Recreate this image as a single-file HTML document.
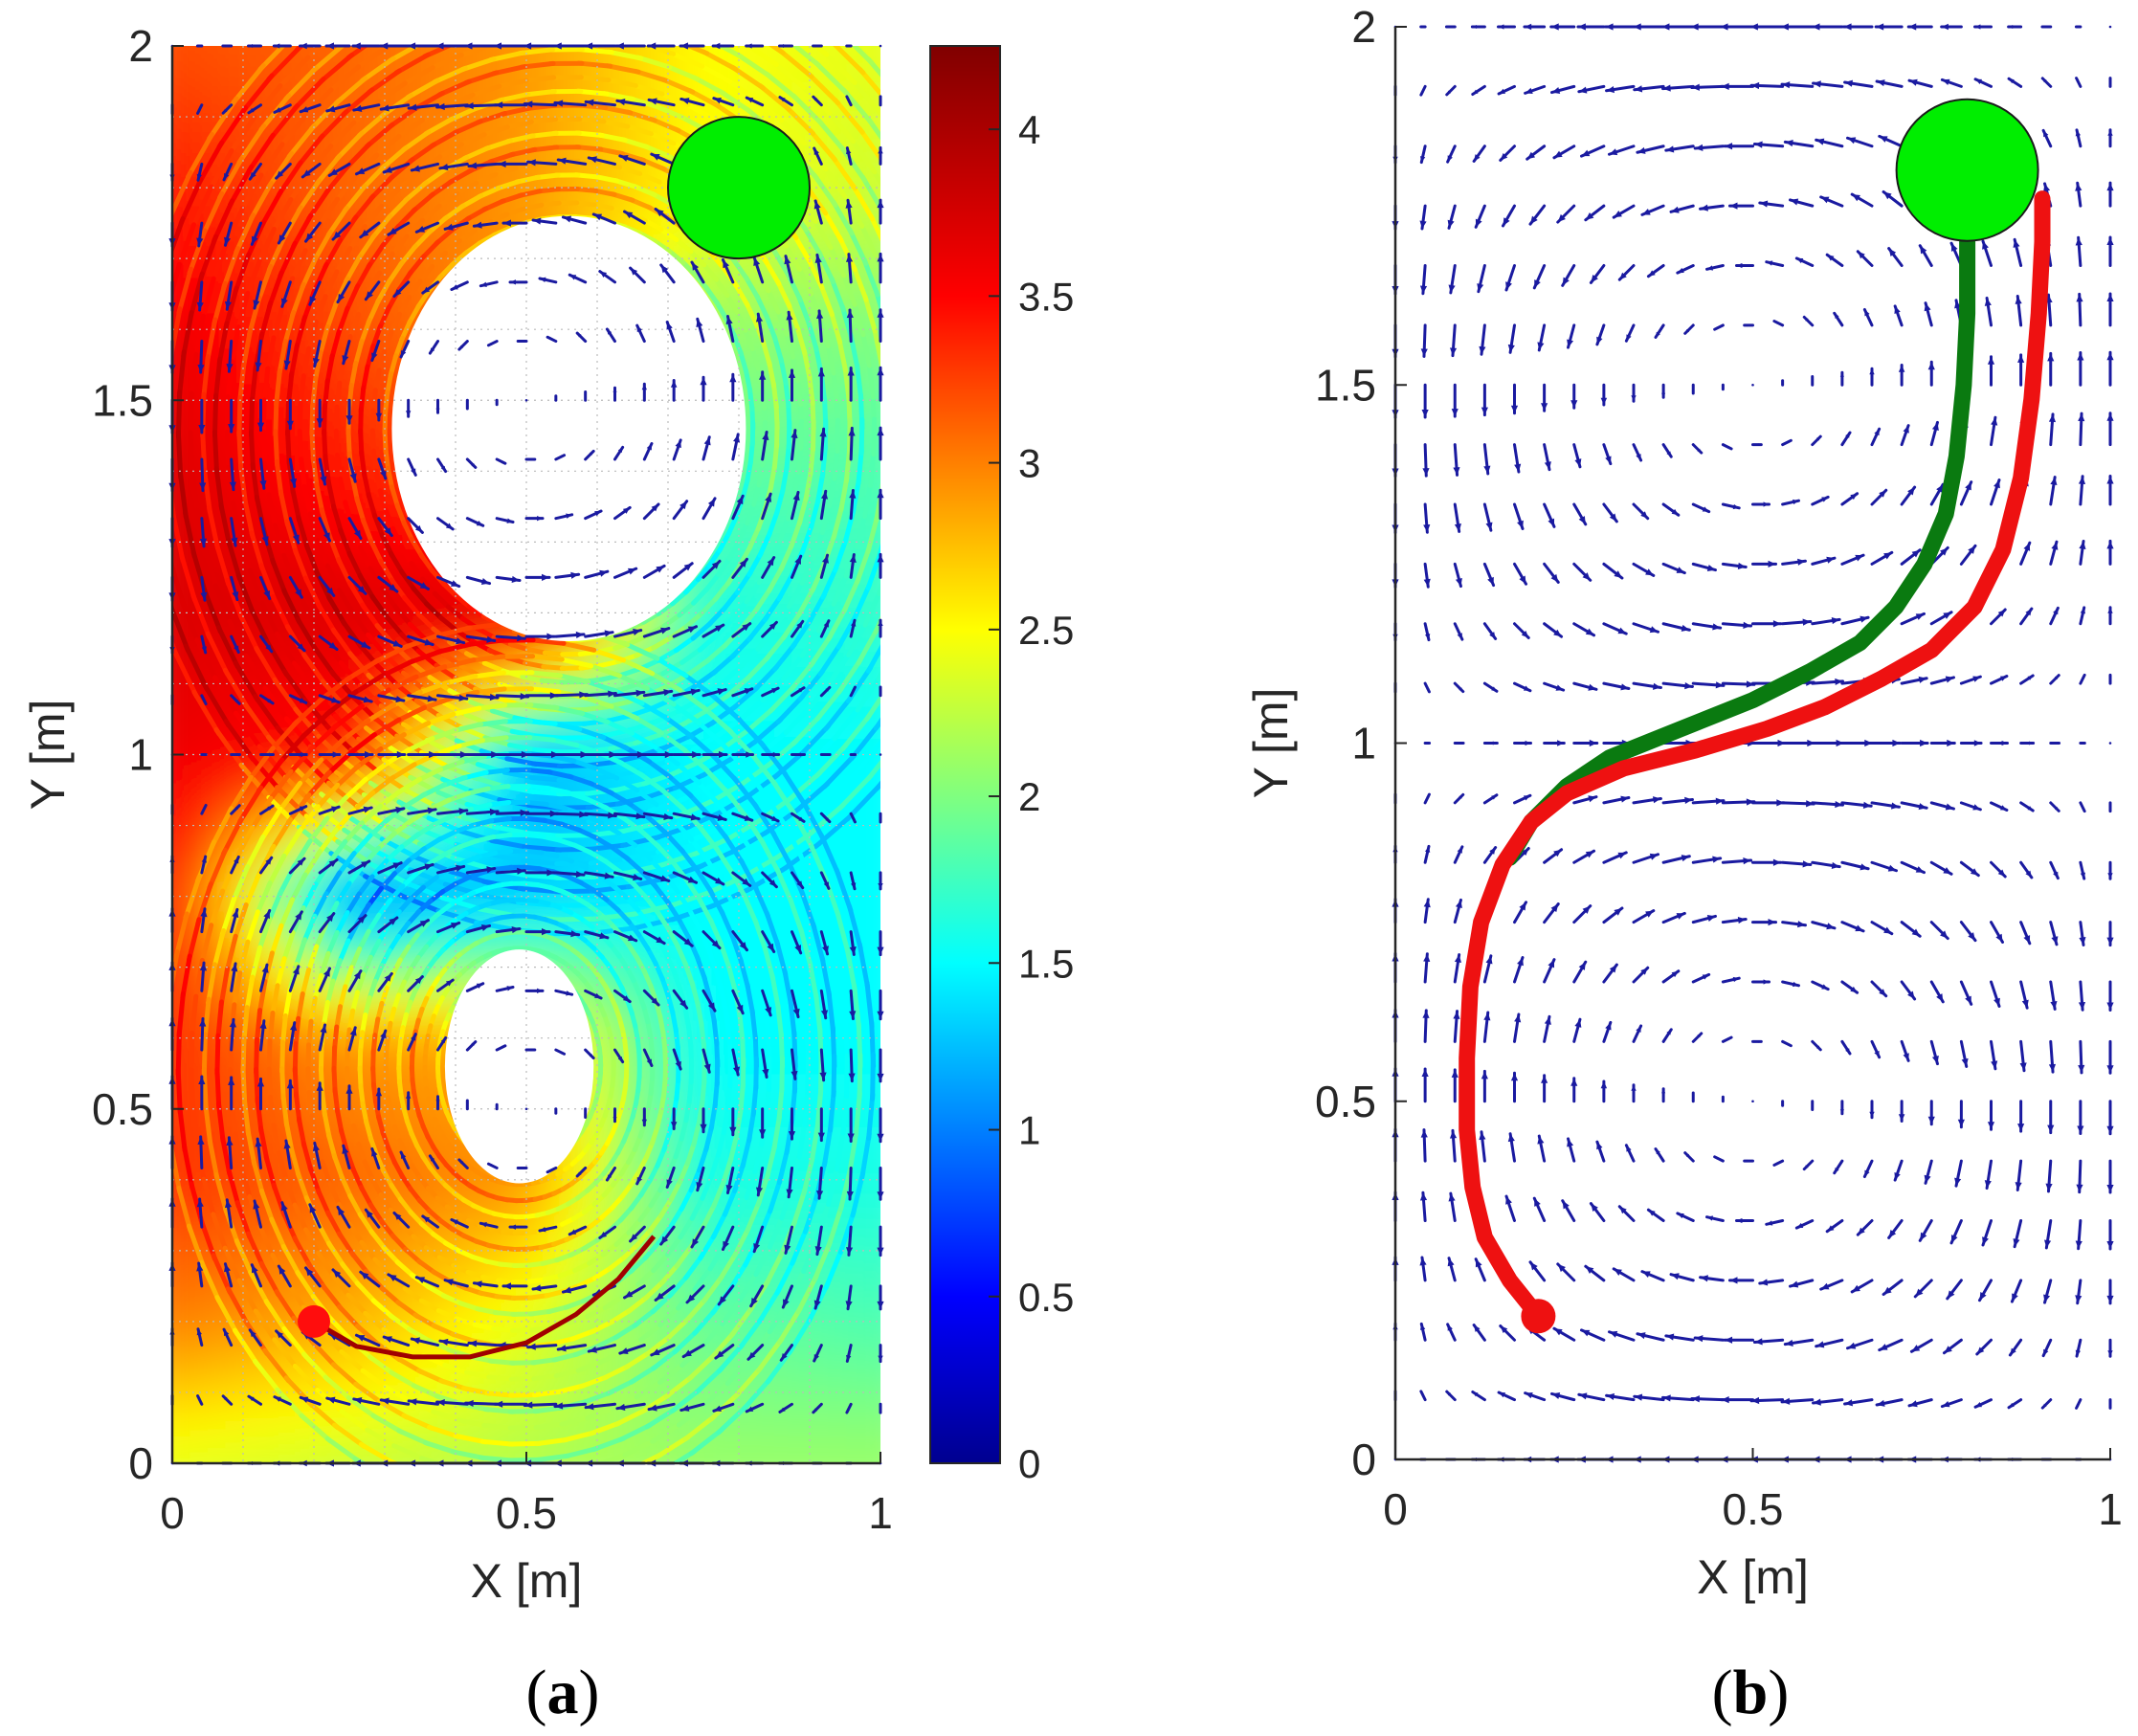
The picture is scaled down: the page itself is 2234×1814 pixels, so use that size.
<!DOCTYPE html>
<html><head><meta charset="utf-8"><style>
html,body{margin:0;padding:0;background:#fff;}
svg{display:block;font-family:"Liberation Sans",Arial,sans-serif;}
</style></head><body>
<svg id="fig" xmlns="http://www.w3.org/2000/svg" width="2234" height="1814" viewBox="0 0 2234 1814">
<defs>
<clipPath id="clipA"><rect x="180" y="48" width="740" height="1481"/></clipPath>
<filter id="blurA" x="-10%" y="-10%" width="120%" height="120%"><feGaussianBlur stdDeviation="22"/></filter>
<linearGradient id="jet" x1="0" y1="1" x2="0" y2="0">
<stop offset="0" stop-color="#00008f"/><stop offset="0.1176" stop-color="#0000ff"/>
<stop offset="0.3529" stop-color="#00ffff"/><stop offset="0.5882" stop-color="#ffff00"/>
<stop offset="0.8235" stop-color="#ff0000"/><stop offset="1" stop-color="#800000"/>
</linearGradient>
</defs>
<g id="panelA"></g>
<g id="panelB"></g>
<text x="588" y="1790" font-family="Liberation Serif,serif" font-size="66" text-anchor="middle">(<tspan font-weight="bold">a</tspan>)</text>
<text x="1829" y="1790" font-family="Liberation Serif,serif" font-size="66" text-anchor="middle">(<tspan font-weight="bold">b</tspan>)</text>
</svg>
<script>
// ---- data ----
const axisTicks = [0, 0.5, 1];
const yTicks = [0, 0.5, 1, 1.5, 2];
const yTickLabels = ["0", "0.5", "1", "1.5", "2"];
const xTickLabels = ["0", "0.5", "1"];
const cbTicks = [0, 0.5, 1, 1.5, 2, 2.5, 3, 3.5, 4];
const cbTickLabels = ["0", "0.5", "1", "1.5", "2", "2.5", "3", "3.5", "4"];
const cbMax = 4.25;
// quiver grid (columns every 1/24, rows every 1/12)
const quiverXs = Array.from({length: 25}, (_, i) => i / 24);
const quiverYs = Array.from({length: 25}, (_, j) => j / 12);
// speed colour grid: rows y=2.0..0.0 step 0.2, cols x=0,0.25,0.5,0.75,1
const colorGridX = [0, 0.25, 0.5, 0.75, 1];
const colorGridY = [2.0, 1.8, 1.6, 1.4, 1.2, 1.0, 0.8, 0.6, 0.4, 0.2, 0.0];
const colorGrid = [
 [3.2, 3.1, 2.9, 2.5, 2.4],
 [3.4, 3.1, 2.9, 2.5, 2.3],
 [3.6, 3.2, 2.9, 2.1, 2.0],
 [3.7, 3.4, 3.1, 1.9, 1.8],
 [3.7, 3.7, 3.7, 1.6, 1.7],
 [3.6, 3.4, 1.2, 1.5, 1.5],
 [3.4, 1.0, 1.3, 1.5, 1.5],
 [3.3, 2.9, 2.8, 1.5, 1.5],
 [3.3, 3.1, 2.9, 1.6, 1.6],
 [3.0, 2.8, 2.4, 1.9, 1.8],
 [2.4, 2.3, 2.2, 2.1, 2.1]];
// empty vortex cores in (a): cx, cy, rx, ry
const holeTop = [0.56, 1.46, 0.25, 0.30];
const holeBottom = [0.49, 0.56, 0.105, 0.165];
const goal = [0.8, 1.8];
const start = [0.2, 0.2];
// trajectories in (b)
const greenPathX = [0.8, 0.8, 0.795, 0.785, 0.77, 0.74, 0.7, 0.65, 0.58, 0.5, 0.4, 0.3, 0.24, 0.19, 0.16];
const greenPathY = [1.72, 1.6, 1.5, 1.4, 1.32, 1.25, 1.19, 1.14, 1.1, 1.06, 1.02, 0.98, 0.94, 0.89, 0.84];
const redPathX = [0.2, 0.16, 0.125, 0.108, 0.1, 0.1, 0.105, 0.12, 0.15, 0.19, 0.24, 0.32, 0.42, 0.52, 0.6, 0.68, 0.75, 0.81, 0.85, 0.875, 0.89, 0.9, 0.905, 0.905];
const redPathY = [0.2, 0.25, 0.31, 0.38, 0.46, 0.56, 0.66, 0.75, 0.83, 0.89, 0.93, 0.965, 0.99, 1.02, 1.05, 1.09, 1.13, 1.19, 1.27, 1.37, 1.48, 1.6, 1.7, 1.76];
// highlighted trajectory from start in (a)
const startTrajX = [0.2, 0.26, 0.34, 0.42, 0.5, 0.57, 0.63, 0.68];
const startTrajY = [0.2, 0.165, 0.15, 0.15, 0.17, 0.21, 0.26, 0.32];

// ---- helpers ----
const NS = "http://www.w3.org/2000/svg";
function mk(tag, attrs, parent) {
  const e = document.createElementNS(NS, tag);
  for (const k in attrs) e.setAttribute(k, attrs[k]);
  parent.appendChild(e);
  return e;
}
const A = {x0: 180, x1: 920, y0: 1529, y1: 48};
const B = {x0: 1458, x1: 2205, y0: 1525, y1: 28};
function sx(P, x) { return P.x0 + (P.x1 - P.x0) * x; }
function sy(P, y) { return P.y0 + (P.y1 - P.y0) * y / 2; }
function jet(t) {
  t = Math.max(0, Math.min(1, t / cbMax));
  const st = [[0,0,0,143],[0.1176,0,0,255],[0.3529,0,255,255],[0.5882,255,255,0],[0.8235,255,0,0],[1,128,0,0]];
  for (let i = 1; i < st.length; i++) if (t <= st[i][0]) {
    const a = st[i-1], b = st[i], f = (t - a[0]) / (b[0] - a[0]);
    return `rgb(${Math.round(a[1]+(b[1]-a[1])*f)},${Math.round(a[2]+(b[2]-a[2])*f)},${Math.round(a[3]+(b[3]-a[3])*f)})`;
  }
  return "rgb(128,0,0)";
}
function speedAt(x, y) {
  x = Math.max(0, Math.min(1, x)); y = Math.max(0, Math.min(2, y));
  const fi = x / 0.25, i = Math.min(3, Math.floor(fi)), fx = fi - i;
  const fj = (2 - y) / 0.2, j = Math.min(9, Math.floor(fj)), fy = fj - j;
  const g = colorGrid;
  return (g[j][i]*(1-fx)+g[j][i+1]*fx)*(1-fy) + (g[j+1][i]*(1-fx)+g[j+1][i+1]*fx)*fy;
}
function field(x, y) {
  return [-Math.sin(Math.PI*x)*Math.cos(Math.PI*y), Math.cos(Math.PI*x)*Math.sin(Math.PI*y)];
}

function axes(P, g, name) {
  const ax = mk("g", {}, g);
  
  
  mk("line", {x1:P.x0, y1:P.y1, x2:P.x0, y2:P.y0, stroke:"#262626", "stroke-width":2.5}, ax);
  mk("line", {x1:P.x0, y1:P.y0, x2:P.x1, y2:P.y0, stroke:"#262626", "stroke-width":2.5}, ax);
  axisTicks.forEach((v, i) => {
    mk("line", {x1:sx(P,v), y1:P.y0, x2:sx(P,v), y2:P.y0-12, stroke:"#262626", "stroke-width":2}, ax);
    const t = mk("text", {x:sx(P,v), y:P.y0+68, "font-size":46, "text-anchor":"middle", fill:"#262626"}, ax);
    t.textContent = xTickLabels[i];
    
    
  });
  yTicks.forEach((v, i) => {
    mk("line", {x1:P.x0, y1:sy(P,v), x2:P.x0+12, y2:sy(P,v), stroke:"#262626", "stroke-width":2}, ax);
    const t = mk("text", {x:P.x0-20, y:sy(P,v)+16, "font-size":46, "text-anchor":"end", fill:"#262626"}, ax);
    t.textContent = yTickLabels[i];
    
    
  });
  const xl = mk("text", {x:(P.x0+P.x1)/2, y:P.y0+140, "font-size":50, "text-anchor":"middle", fill:"#262626"}, ax);
  xl.textContent = "X [m]";
  
  
  const yx = P.x0 - 130, yy = (P.y0 + P.y1) / 2;
  const yl = mk("text", {x:yx, y:yy, "font-size":50, "text-anchor":"middle", fill:"#262626", transform:`rotate(-90 ${yx} ${yy}) translate(0 17)`}, ax);
  yl.textContent = "Y [m]";
  
  
}

function quiver(P, g) {
  const q = mk("g", {stroke:"#1a1aa0", fill:"#1a1aa0", "stroke-width":3, "stroke-linecap":"round"}, g);
  
  
  const scale = 34;
  quiverYs.forEach(y => quiverXs.forEach(x => {
    const [u, v] = field(x, y);
    const px = sx(P, x), py = sy(P, y);
    const dx = u * scale, dy = -v * scale;
    const L = Math.hypot(dx, dy);
    if (L < 1.5) { mk("circle", {cx:px, cy:py, r:1.3, stroke:"none"}, q); return; }
    const ex = px + dx, ey = py + dy;
    const a = mk("line", {x1:px, y1:py, x2:ex, y2:ey}, q);
    
    
    const h = Math.min(8, L * 0.35), ux = dx / L, uy = dy / L;
    mk("polygon", {points:`${ex},${ey} ${ex-ux*h-uy*h*0.45},${ey-uy*h+ux*h*0.45} ${ex-ux*h+uy*h*0.45},${ey-uy*h-ux*h*0.45}`, stroke:"none"}, q);
  }));
}

function pathD(P, xs, ys) {
  return xs.map((x, i) => (i ? "L" : "M") + sx(P, x).toFixed(1) + "," + sy(P, ys[i]).toFixed(1)).join(" ");
}

// ---- panel A ----
const gA = document.getElementById("panelA");
const fillG = mk("g", {"clip-path":"url(#clipA)"}, gA);


const blurG = mk("g", {filter:"url(#blurA)"}, fillG);
for (let x = -0.05; x < 1.05; x += 0.025) for (let y = -0.05; y < 2.05; y += 0.025) {
  mk("rect", {x:sx(A,x), y:sy(A,y+0.025), width:19, height:19, fill:jet(speedAt(x+0.0125, y+0.0125))}, blurG);
}
function rings(cx, cy, r0, r1, ky, n) {
  for (let k = 0; k < n; k++) {
    const rx = r0 + (r1 - r0) * k / (n - 1), ry = rx * ky;
    for (let a = 0; a < Math.PI * 2; a += 0.09) {
      const xa = cx + rx * Math.cos(a), ya = cy + ry * Math.sin(a);
      const xb = cx + rx * Math.cos(a + 0.1), yb = cy + ry * Math.sin(a + 0.1);
      const s = speedAt((xa + xb) / 2, (ya + yb) / 2) + ((k % 3) - 1) * 0.25;
      mk("line", {x1:sx(A,xa), y1:sy(A,ya), x2:sx(A,xb), y2:sy(A,yb), stroke:jet(s), "stroke-width":5, "stroke-linecap":"round"}, fillG);
    }
  }
}
rings(holeTop[0], holeTop[1], holeTop[2] + 0.01, 0.62, 1.15, 22);
rings(holeBottom[0], holeBottom[1], holeBottom[2] + 0.01, 0.5, 1.25, 22);
[holeTop, holeBottom].forEach((h, i) => {
  const e = mk("ellipse", {cx:sx(A,h[0]), cy:sy(A,h[1]), rx:(A.x1-A.x0)*h[2], ry:(A.y0-A.y1)/2*h[3], fill:"#fff"}, fillG);
  
  
});
const gridG = mk("g", {stroke:"#bbb", "stroke-width":1.2, "stroke-dasharray":"2 5"}, gA);


for (let i = 1; i < 10; i++) mk("line", {x1:sx(A,i/10), y1:A.y1, x2:sx(A,i/10), y2:A.y0}, gridG);
for (let j = 1; j < 20; j++) mk("line", {x1:A.x0, y1:sy(A,j/10), x2:A.x1, y2:sy(A,j/10)}, gridG);
quiver(A, gA);
const st = mk("path", {d:pathD(A, startTrajX, startTrajY), fill:"none", stroke:"#a00000", "stroke-width":5, "stroke-linejoin":"round"}, gA);


axes(A, gA, "panel-a");
const gcA = mk("circle", {cx:sx(A,goal[0]), cy:sy(A,goal[1]), r:74, fill:"#00ee00", stroke:"#1a1a1a", "stroke-width":2}, gA);


const scA = mk("circle", {cx:sx(A,start[0]), cy:sy(A,start[1]), r:17, fill:"#ff0d0d"}, gA);


// colorbar
const cb = mk("g", {}, gA);


const cbTop = 48, cbBot = 1529, cbX = 972, cbW = 73;
mk("rect", {x:cbX, y:cbTop, width:cbW, height:cbBot-cbTop, fill:"url(#jet)", stroke:"#262626", "stroke-width":2}, cb);
cbTicks.forEach((v, i) => {
  const y = cbBot - (cbBot - cbTop) * v / cbMax;
  mk("line", {x1:cbX+cbW-12, y1:y, x2:cbX+cbW, y2:y, stroke:"#262626", "stroke-width":2}, cb);
  const t = mk("text", {x:1064, y:y+15, "font-size":42, fill:"#262626"}, cb);
  t.textContent = cbTickLabels[i];
  
  
});

// ---- panel B ----
const gB = document.getElementById("panelB");
quiver(B, gB);
axes(B, gB, "panel-b");
const gp = mk("path", {d:pathD(B, greenPathX, greenPathY), fill:"none", stroke:"#0a7a10", "stroke-width":17, "stroke-linejoin":"round", "stroke-linecap":"round"}, gB);


const rp = mk("path", {d:pathD(B, redPathX, redPathY), fill:"none", stroke:"#ee1111", "stroke-width":17, "stroke-linejoin":"round", "stroke-linecap":"round"}, gB);


const gcB = mk("circle", {cx:sx(B,goal[0]), cy:sy(B,goal[1]), r:74, fill:"#00ee00", stroke:"#1a1a1a", "stroke-width":2}, gB);


const scB = mk("circle", {cx:sx(B,start[0]), cy:sy(B,start[1]), r:18, fill:"#ee1111"}, gB);


</script>
</body></html>
